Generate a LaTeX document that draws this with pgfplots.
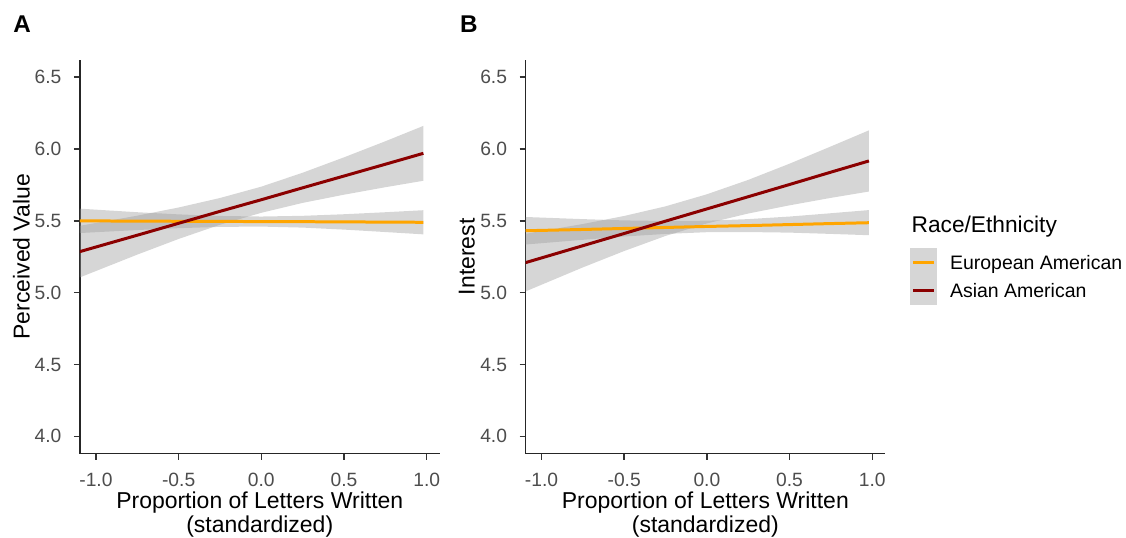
\documentclass[border=0pt]{standalone}
\usepackage{fontspec}
\setmainfont{Liberation Sans}
\usepackage{pgfplots}
\usepackage{pgfplotstable}
\pgfplotsset{compat=1.18}
\usepgfplotslibrary{fillbetween}

\definecolor{euro}{HTML}{FFA500}
\definecolor{asian}{HTML}{8B0000}
\definecolor{band}{HTML}{999999}
\definecolor{tickgray}{HTML}{4D4D4D}

% panel A: perceived value
\pgfplotstableread{
x      eu     eulo   euhi   as     aslo   ashi
-1.10  5.500  5.415  5.585  5.285  5.105  5.465
-0.75  5.498  5.436  5.560  5.400  5.265  5.536
-0.50  5.497  5.449  5.545  5.483  5.374  5.593
-0.25  5.496  5.458  5.534  5.566  5.473  5.659
 0.00  5.495  5.460  5.530  5.647  5.556  5.738
 0.25  5.494  5.453  5.535  5.730  5.625  5.835
 0.50  5.493  5.439  5.546  5.812  5.682  5.942
 0.75  5.491  5.422  5.560  5.894  5.734  6.054
 0.98  5.490  5.406  5.574  5.970  5.779  6.161
}\valueA

% panel B: interest
\pgfplotstableread{
x      eu     eulo   euhi   as     aslo   ashi
-1.10  5.431  5.335  5.527  5.208  5.007  5.409
-0.75  5.440  5.368  5.512  5.327  5.176  5.478
-0.50  5.447  5.391  5.503  5.412  5.290  5.534
-0.25  5.454  5.409  5.499  5.498  5.395  5.601
 0.00  5.461  5.421  5.501  5.583  5.482  5.685
 0.25  5.467  5.422  5.512  5.668  5.551  5.785
 0.50  5.474  5.418  5.530  5.753  5.608  5.898
 0.75  5.481  5.409  5.553  5.839  5.660  6.018
 0.98  5.487  5.400  5.575  5.917  5.704  6.130
}\valueB

\pgfplotsset{
  panel/.style={
    scale only axis, width=144pt, height=157.6pt,
    xmin=-1.097, xmax=1.078, ymin=3.88, ymax=6.62,
    axis x line*=bottom, axis y line*=left,
    axis line style={line width=0.6pt, black!85, -},
    xtick={-1,-0.5,0,0.5,1}, ytick={4,4.5,5,5.5,6,6.5},
    tick align=outside, major tick length=2.4pt,
    tick style={line width=0.6pt, black!80},
    /pgf/number format/fixed, /pgf/number format/fixed zerofill,
    /pgf/number format/precision=1, /pgf/number format/assume math mode=true,
    ticklabel style={font=\fontsize{7.7}{9}\selectfont, text=tickgray},
    xticklabel style={anchor=north, inner sep=0pt, yshift=-5.2pt},
    yticklabel style={anchor=east, inner sep=0pt, xshift=-4.8pt},
    xlabel={Proportion of Letters Written\\(standardized)},
    xlabel style={at={(axis description cs:0.5,-0.0964)}, anchor=north, align=center,
      inner sep=0pt, font=\fontsize{9.2}{8.4}\selectfont},
    ylabel style={at={(axis description cs:-0.163,0.5)}, anchor=center,
      inner sep=0pt, font=\fontsize{9.2}{11}\selectfont},
    legend image code/.code={
      \fill[band!40] (0pt,-2.3pt) rectangle (9.6pt,7.9pt);
      \draw[#1, line width=1.2pt] (0.5pt,2.8pt) -- (9.1pt,2.8pt);},
  },
  bandstyle/.style={fill=band, fill opacity=0.4, draw=none, forget plot},
  fitline/.style={line width=1.2pt},
}

\begin{document}
\begin{tikzpicture}

\begin{axis}[panel, at={(32pt,32.8pt)}, anchor=south west, ylabel={Perceived Value}]
\addplot[name path=eh, draw=none, forget plot] table[x=x, y=euhi] {\valueA};
\addplot[name path=el, draw=none, forget plot] table[x=x, y=eulo] {\valueA};
\addplot[bandstyle] fill between[of=eh and el];
\addplot[euro, fitline] table[x=x, y=eu] {\valueA};
\addplot[name path=ah, draw=none, forget plot] table[x=x, y=ashi] {\valueA};
\addplot[name path=al, draw=none, forget plot] table[x=x, y=aslo] {\valueA};
\addplot[bandstyle] fill between[of=ah and al];
\addplot[asian, fitline] table[x=x, y=as] {\valueA};
\end{axis}

\begin{axis}[panel, at={(210.4pt,32.8pt)}, anchor=south west, ylabel={Interest},
  legend style={at={(axis description cs:1.0694,0.5228)}, anchor=north west,
    draw=none, fill=none, inner sep=0pt, outer sep=0pt, row sep=0pt,
    font=\fontsize{7.8}{9}\selectfont,
    nodes={text height=6.4pt, text depth=0.8pt, inner sep=1.5pt, anchor=base west},
    /tikz/every odd column/.append style={column sep=3.7pt}},
  legend cell align=left]
\addplot[name path=eh, draw=none, forget plot] table[x=x, y=euhi] {\valueB};
\addplot[name path=el, draw=none, forget plot] table[x=x, y=eulo] {\valueB};
\addplot[bandstyle] fill between[of=eh and el];
\addplot[euro, fitline] table[x=x, y=eu] {\valueB};
\addlegendentry{European American}
\addplot[name path=ah, draw=none, forget plot] table[x=x, y=ashi] {\valueB};
\addplot[name path=al, draw=none, forget plot] table[x=x, y=aslo] {\valueB};
\addplot[bandstyle] fill between[of=ah and al];
\addplot[asian, fitline] table[x=x, y=as] {\valueB};
\addlegendentry{Asian American}
\end{axis}

\node[anchor=base west, inner sep=0pt, font=\fontsize{9.1}{11}\selectfont] at (364.8pt,121.2pt) {Race/Ethnicity};
\node[anchor=base west, inner sep=0pt, font=\fontsize{9.7}{11}\selectfont\bfseries] at (5.2pt,201.2pt) {A};
\node[anchor=base west, inner sep=0pt, font=\fontsize{9.7}{11}\selectfont\bfseries] at (184pt,201.2pt) {B};
\path (0,0) rectangle (450.4pt,214.4pt);
\end{tikzpicture}
\end{document}
